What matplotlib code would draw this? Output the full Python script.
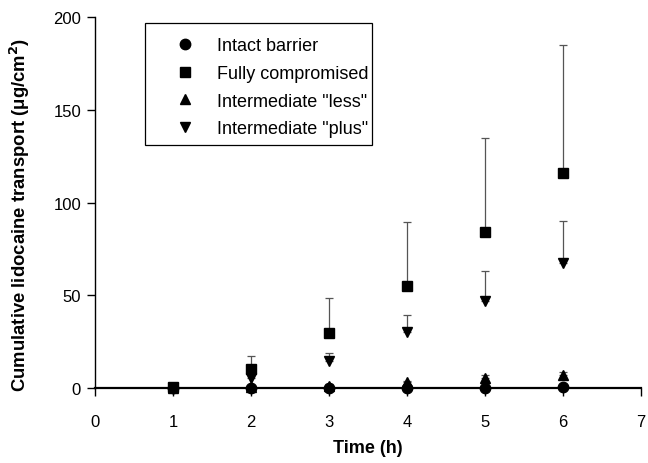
import numpy as np
import matplotlib
matplotlib.use("Agg")
import matplotlib.pyplot as plt
from matplotlib.patches import Rectangle

plt.rcParams["font.family"] = ["Liberation Sans", "DejaVu Sans"]

time_h = [1, 2, 3, 4, 5, 6]

intact      = [0.0, 0.0, 0.0, 0.0, 0.0, 0.5]
intact_err  = [0.0, 0.5, 0.5, 0.5, 0.5, 0.5]
fully       = [0.5, 10.2, 29.6, 55.0, 84.0, 116.0]
fully_err   = [0.5, 7.0, 19.0, 34.5, 51.0, 69.0]
less        = [0.0, 0.5, 1.0, 3.0, 5.5, 7.0]
less_err    = [0.0, 0.5, 1.0, 1.0, 1.5, 1.5]
plus        = [0.0, 5.5, 14.5, 30.0, 47.0, 67.5]
plus_err    = [0.0, 2.0, 4.5, 9.5, 16.0, 22.5]

series = [
    ("Intact barrier", intact, intact_err, "o"),
    ("Fully compromised", fully, fully_err, "s"),
    ('Intermediate "less"', less, less_err, "^"),
    ('Intermediate "plus"', plus, plus_err, "v"),
]


def main():
    W, H = 648, 464
    fig = plt.figure(figsize=(W / 100, H / 100), dpi=100)
    ax = fig.add_axes([0.1466, 0.1616, 0.8424, 0.7994])

    for label, y, err, mk in series:
        y = np.array(y)
        err = np.array(err)
        ax.errorbar(time_h, y, yerr=[np.zeros_like(err), err], fmt="none",
                    ecolor="#555555", elinewidth=0.9, capsize=3, capthick=0.9,
                    clip_on=False, zorder=2)
        ax.plot(time_h, y, linestyle="none", marker=mk, color="black",
                markersize=7.5, label=label, clip_on=False, zorder=3)

    ax.set_xlim(0, 7)
    ax.set_ylim(0, 200)
    ax.set_xticks(range(0, 8))
    ax.set_yticks([0, 50, 100, 150, 200])
    ax.spines["top"].set_visible(False)
    ax.spines["right"].set_visible(False)
    ax.spines["left"].set_linewidth(1.0)
    ax.spines["bottom"].set_linewidth(1.6)
    ax.tick_params(axis="both", direction="out", length=6, width=1.0,
                   labelsize=12, pad=4)
    ax.tick_params(axis="x", pad=13)

    ax.set_xlabel("Time (h)", fontsize=13, fontweight="bold", labelpad=7)
    ax.set_ylabel("Cumulative lidocaine transport (μg/cm$^\\mathbf{2}$)",
                  fontsize=13.3, fontweight="bold")
    ax.yaxis.set_label_coords(-0.116, 0.468)

    # legend box drawn separately so the padding can match the original
    ax0, ay0 = 145 / W, 1 - 146 / H
    fig.patches.append(Rectangle((ax0, ay0), (372 - 145) / W, (146 - 24) / H,
                                 transform=fig.transFigure, fill=False,
                                 edgecolor="black", linewidth=0.9, zorder=5))
    fig.legend(*ax.get_legend_handles_labels(), loc="upper left",
               bbox_to_anchor=(158 / W, 1 - 38 / H), frameon=False,
               fontsize=13, handletextpad=0.27, borderpad=0,
               labelspacing=0.6, handlelength=3.0, borderaxespad=0)

    fig.savefig("out.png", dpi=100)
    plt.close(fig)


if __name__ == "__main__":
    main()
